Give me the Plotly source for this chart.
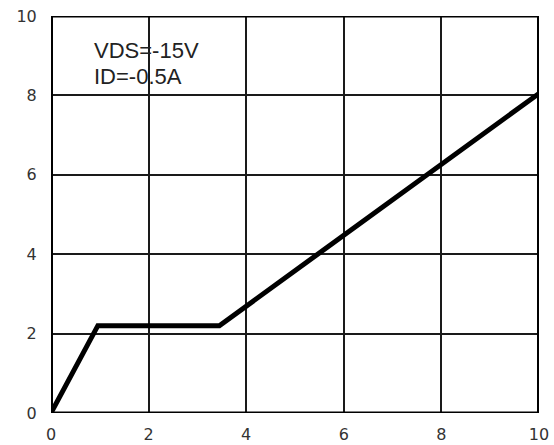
import plotly.graph_objects as go

# Gate charge curve: total gate charge (x) vs gate-source voltage (y)
qg = [0, 0.96, 3.45, 10]
vgs = [0, 2.2, 2.2, 8.05]
tick_vals = [0, 2, 4, 6, 8, 10]
tick_text = ["0", "2", "4", "6", "8", "10"]
conditions = ["VDS=-15V", "ID=-0.5A"]
condition_y = [9.14, 8.48]

FONT = "Liberation Sans, Arial, sans-serif"
TICK_FONT = "DejaVu Sans, Verdana, sans-serif"

fig = go.Figure()
fig.add_trace(go.Scatter(
    x=qg, y=vgs, mode="lines",
    line=dict(color="black", width=5),
    hoverinfo="skip", showlegend=False,
))

axis_common = dict(
    range=[0, 10],
    tickvals=tick_vals,
    ticktext=tick_text,
    showgrid=True,
    gridcolor="#1a1a1a",
    gridwidth=2,
    zeroline=False,
    showline=False,
    ticks="outside",
    tickcolor="rgba(0,0,0,0)",
    tickfont=dict(family=TICK_FONT, size=16, color="#333333"),
    automargin=False,
    fixedrange=True,
)
fig.update_xaxes(ticklen=7, **axis_common)
fig.update_yaxes(ticklen=10, **axis_common)

# Frame: heavier on left/right/bottom, lighter on top
fig.add_shape(type="line", xref="x", yref="y", x0=0, y0=0, x1=0, y1=10,
              line=dict(color="black", width=4))
fig.add_shape(type="line", xref="x", yref="y", x0=10, y0=0, x1=10, y1=10,
              line=dict(color="black", width=4))
fig.add_shape(type="line", xref="x", yref="y", x0=0, y0=0, x1=10, y1=0,
              line=dict(color="black", width=3))
fig.add_shape(type="line", xref="x", yref="y", x0=0, y0=10, x1=10, y1=10,
              line=dict(color="black", width=3))

for text, yv in zip(conditions, condition_y):
    fig.add_annotation(
        x=0.84, y=yv, xref="x", yref="y",
        text=text,
        showarrow=False, xanchor="left", yanchor="middle", align="left",
        font=dict(family=FONT, size=22, color="#222222"),
    )

fig.update_layout(
    width=554, height=445,
    margin=dict(l=51, r=15, t=16, b=32),
    paper_bgcolor="white",
    plot_bgcolor="white",
)

fig.write_html("out.html")
